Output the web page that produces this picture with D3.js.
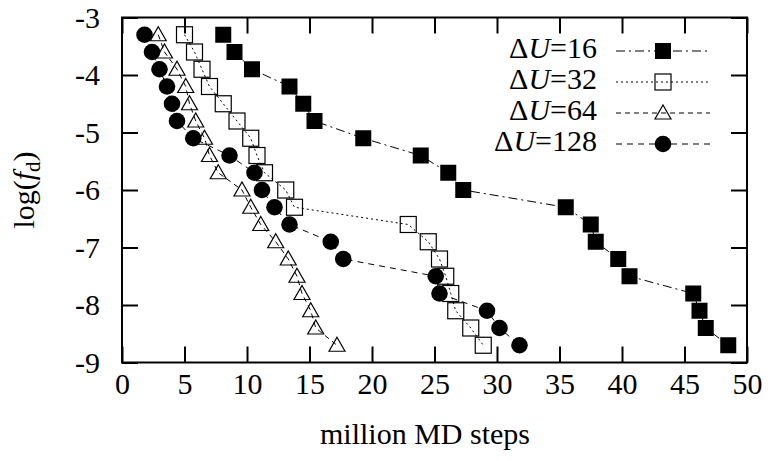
<!DOCTYPE html>
<html>
<head>
<meta charset="utf-8">
<script src="https://cdn.jsdelivr.net/npm/d3@7"></script>
<style>
  html, body { margin: 0; padding: 0; background: #fff; }
  svg { display: block; }
  text { font-family: "Liberation Serif", "Times New Roman", serif; fill: #000; }
</style>
</head>
<body>
<svg id="chart" width="772" height="461"></svg>
<script>
// ---- data ----
const yLevels = [-3.3, -3.6, -3.9, -4.2, -4.5, -4.8, -5.1, -5.4, -5.7, -6.0, -6.3, -6.6, -6.9, -7.2, -7.5, -7.8, -8.1, -8.4, -8.7];
const x16  = [8.1, 9.0, 10.4, 13.4, 14.5, 15.4, 19.3, 23.9, 26.1, 27.3, 35.5, 37.5, 37.9, 39.7, 40.6, 45.7, 46.2, 46.7, 48.5];
const x32  = [5.0, 5.8, 6.4, 7.0, 8.1, 9.2, 10.3, 10.8, 11.4, 13.1, 13.8, 22.9, 24.5, 25.4, 25.9, 26.3, 26.7, 27.9, 28.9];
const x64  = [2.9, 3.4, 4.4, 5.1, 5.4, 5.9, 6.6, 7.0, 7.7, 9.6, 10.3, 11.1, 12.3, 13.3, 14.0, 14.4, 15.1, 15.5, 17.2];
const x128 = [1.8, 2.4, 3.0, 3.6, 4.0, 4.4, 5.7, 8.6, 10.6, 11.2, 12.2, 13.4, 16.7, 17.7, 25.1, 25.4, 29.2, 30.2, 31.8];
const seriesLabels = ["16", "32", "64", "128"];
const xTicks = [0, 5, 10, 15, 20, 25, 30, 35, 40, 45, 50];
const yTicks = [-3, -4, -5, -6, -7, -8, -9];

const seriesStyle = [
  { xs: x16,  dash: "9,4,2,4", marker: "fsquare" },
  { xs: x32,  dash: "2,3",     marker: "osquare" },
  { xs: x64,  dash: "5,4",     marker: "triangle" },
  { xs: x128, dash: "6,5",     marker: "circle" }
];

// ---- layout ----
const L = 122, R = 747, T = 17.5, B = 362.5;
const FS = 30;
const svg = d3.select("#chart");
const x = d3.scaleLinear().domain([0, 50]).range([L, R]);
const y = d3.scaleLinear().domain([-3, -9]).range([T, B]);

// axes
const gB = svg.append("g").attr("transform", `translate(0,${B})`)
  .call(d3.axisBottom(x).tickValues(xTicks).tickSize(-16).tickPadding(10).tickFormat(d3.format("d")));
const gL = svg.append("g").attr("transform", `translate(${L},0)`)
  .call(d3.axisLeft(y).tickValues(yTicks).tickSize(-16).tickPadding(22).tickFormat(d => d.toString()));
const gT = svg.append("g").attr("transform", `translate(0,${T})`)
  .call(d3.axisTop(x).tickValues(xTicks).tickSize(-16).tickFormat(""));
const gR = svg.append("g").attr("transform", `translate(${R},0)`)
  .call(d3.axisRight(y).tickValues(yTicks).tickSize(-16).tickFormat(""));
[gB, gL, gT, gR].forEach(g => {
  g.attr("font-family", null).attr("font-size", null);
  g.select(".domain").remove();
  g.selectAll(".tick line").attr("stroke", "#000").attr("stroke-width", 2);
  g.selectAll(".tick text").attr("font-size", FS);
});
gL.selectAll(".tick text").text(d => "-" + Math.abs(d));

// frame
svg.append("rect").attr("x", L).attr("y", T).attr("width", R - L).attr("height", B - T)
  .attr("fill", "none").attr("stroke", "#000").attr("stroke-width", 2);

// markers
function drawMarker(g, type, cx, cy) {
  if (type === "fsquare") {
    g.append("rect").attr("x", cx - 8).attr("y", cy - 8).attr("width", 16).attr("height", 16).attr("fill", "#000");
  } else if (type === "osquare") {
    g.append("rect").attr("x", cx - 8).attr("y", cy - 8).attr("width", 16).attr("height", 16)
      .attr("fill", "none").attr("stroke", "#000").attr("stroke-width", 1.2);
  } else if (type === "triangle") {
    g.append("path").attr("d", `M${cx},${cy - 8}L${cx + 8},${cy + 6}L${cx - 8},${cy + 6}Z`)
      .attr("fill", "none").attr("stroke", "#000").attr("stroke-width", 1.2);
  } else {
    g.append("circle").attr("cx", cx).attr("cy", cy).attr("r", 8.3).attr("fill", "#000");
  }
}

const line = d3.line().x(d => x(d[0])).y(d => y(d[1]));
seriesStyle.forEach(s => {
  const pts = s.xs.map((v, i) => [v, yLevels[i]]);
  const g = svg.append("g");
  g.append("path").attr("d", line(pts)).attr("fill", "none").attr("stroke", "#000")
    .attr("stroke-width", 1).attr("stroke-dasharray", s.dash);
  pts.forEach(p => drawMarker(g, s.marker, x(p[0]), y(p[1])));
});

// legend
const legend = svg.append("g");
seriesStyle.forEach((s, i) => {
  const base = 58 + 31 * i;
  const cy = base - 7;
  const t = legend.append("text").attr("x", 597).attr("y", base).attr("text-anchor", "end").attr("font-size", FS);
  t.append("tspan").text("Δ");
  t.append("tspan").attr("font-style", "italic").text("U");
  t.append("tspan").text("=" + seriesLabels[i]);
  legend.append("line").attr("x1", 616).attr("x2", 710).attr("y1", cy).attr("y2", cy)
    .attr("stroke", "#000").attr("stroke-width", 1).attr("stroke-dasharray", s.dash);
  drawMarker(legend, s.marker, 663, cy);
});

// axis titles
svg.append("text").attr("x", 425).attr("y", 444).attr("text-anchor", "middle")
  .attr("font-size", FS).text("million MD steps");
const yl = svg.append("text").attr("transform", `translate(34,${(T + B) / 2}) rotate(-90)`)
  .attr("text-anchor", "middle").attr("font-size", FS);
yl.append("tspan").text("log(");
yl.append("tspan").attr("font-style", "italic").text("f");
yl.append("tspan").attr("font-size", 21).attr("dy", 6).text("d");
yl.append("tspan").attr("dy", -6).text(")");
</script>
</body>
</html>
